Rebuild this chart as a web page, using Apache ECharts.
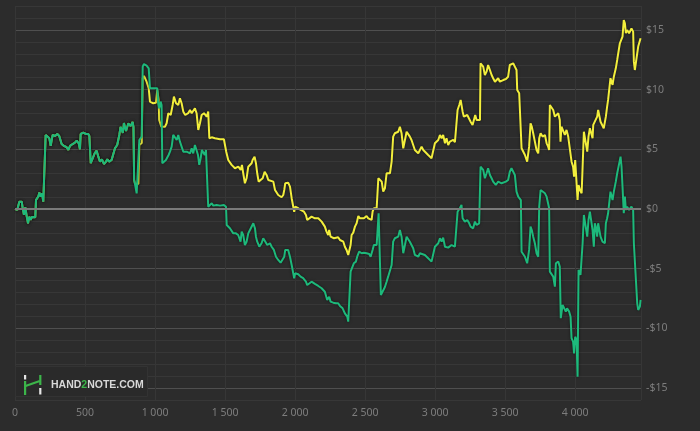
<!DOCTYPE html>
<html><head><meta charset="utf-8">
<script src="https://cdn.jsdelivr.net/npm/echarts@6/dist/echarts.min.js"></script>
<style>html,body{margin:0;padding:0;background:#2c2c2c}#c{width:700px;height:431px}</style>
</head><body><div id="c"></div><script>
// x tick labels (hands), y tick labels ($)
const xTicks = [0, 500, 1000, 1500, 2000, 2500, 3000, 3500, 4000];
const yTicks = [-15, -10, -5, 0, 5, 10, 15];

// Both lines coincide over the first ~850 hands
const sharedHands = [0,16,31,48,55,64,74,84,93,102,112,121,131,145,150,166,174,184,193,202,214,219,231,245,255,269,286,302,316,333,350,369,381,393,412,428,441,455,464,469,488,507,523,531,541,555,569,583,595,607,621,635,650,659,673,690,702,714,730,745,754,770,778,793,809,826,840,846];
const sharedValues = [0,-0.08,0.61,0.61,0.06,-0.5,0.14,-0.64,-1.2,-0.64,-0.92,-0.67,-0.78,-0.7,0.75,1.03,1.37,1.03,1.31,0.61,0.61,6.2,6.28,5.92,5.28,6.2,6.11,6.28,6.11,5.44,5.28,5.17,4.94,5.28,5.44,5.55,5.72,5.5,5.0,6.28,6.39,6.28,6.28,6.11,3.83,3.88,4.66,4.88,4.38,3.96,4.16,3.77,3.96,4.16,3.96,4.1,4.16,5.08,5.36,6.2,6.87,6.37,7.2,6.53,7.16,6.95,7.29,6.87];

// Green line (winnings)
const greenHands = [851,857,869,883,888,905,912,921,940,955,964,976,987,1016,1023,1030,1040,1047,1052,1064,1078,1087,1097,1107,1119,1130,1142,1155,1166,1178,1190,1202,1216,1226,1237,1250,1262,1273,1285,1297,1307,1316,1326,1335,1345,1355,1364,1373,1380,1392,1405,1416,1440,1464,1492,1507,1512,1535,1559,1578,1594,1611,1619,1630,1642,1654,1666,1678,1690,1702,1714,1721,1730,1745,1761,1773,1785,1802,1821,1833,1849,1864,1880,1897,1911,1923,1930,1951,1964,1976,1987,1994,2001,2023,2040,2058,2078,2087,2101,2118,2142,2166,2190,2213,2230,2244,2254,2273,2292,2308,2321,2340,2356,2373,2380,2392,2397,2406,2420,2435,2444,2458,2476,2492,2511,2530,2540,2554,2563,2583,2597,2606,2613,2625,2642,2654,2665,2678,2690,2701,2713,2737,2749,2761,2773,2785,2797,2820,2844,2856,2880,2892,2904,2927,2951,2975,2987,2999,3023,3035,3047,3058,3071,3094,3118,3142,3154,3161,3177,3189,3197,3213,3230,3244,3254,3272,3285,3297,3315,3325,3334,3344,3356,3368,3379,3392,3404,3415,3434,3451,3475,3506,3522,3534,3546,3558,3570,3582,3594,3613,3618,3630,3642,3658,3672,3682,3691,3701,3713,3725,3737,3744,3754,3768,3785,3797,3808,3815,3820,3832,3844,3856,3863,3880,3891,3898,3911,3922,3934,3943,3958,3968,3975,3986,3993,4001,4011,4018,4025,4039,4054,4063,4077,4087,4096,4106,4118,4125,4134,4141,4148,4158,4165,4172,4182,4196,4205,4213,4220,4229,4236,4248,4253,4268,4277,4291,4301,4315,4325,4332,4339,4348,4356,4363,4372,4386,4403,4415,4420,4434,4444,4451,4463,4468];
const greenValues = [2.43,2.09,1.31,1.31,5.78,6.06,11.92,12.14,12.0,11.78,10.11,9.97,10.11,10.11,8.85,8.43,8.99,8.71,3.83,3.83,4.1,3.96,4.52,4.8,5.22,6.2,6.34,5.78,6.2,5.64,5.5,4.8,4.94,4.8,4.94,4.66,5.08,4.66,5.36,5.42,4.52,3.69,4.25,4.94,4.8,4.52,4.94,5.08,0.19,0.11,0.48,0.28,0.34,0.28,0.34,0.19,-1.34,-1.62,-2.04,-2.04,-2.18,-2.74,-1.9,-2.18,-3.02,-2.74,-2.04,-1.76,-1.62,-1.2,-1.62,-2.32,-2.74,-3.16,-2.87,-2.45,-2.6,-3.02,-2.87,-3.16,-3.43,-4.0,-4.27,-4.5,-4.41,-4.0,-3.43,-3.43,-4.0,-4.69,-4.83,-5.8,-5.39,-5.47,-5.67,-5.8,-6.09,-6.37,-6.28,-6.09,-6.28,-6.45,-6.64,-6.93,-7.62,-7.35,-7.76,-7.85,-7.9,-7.9,-8.12,-8.32,-8.74,-9.02,-9.44,-9.44,-5.25,-5.11,-4.55,-4.41,-4.0,-3.58,-3.71,-3.66,-3.71,-3.77,-4.0,-3.43,-3.02,-3.02,-0.36,-0.42,-7.2,-7.2,-6.53,-6.09,-5.67,-5.53,-4.69,-2.74,-2.45,-2.32,-1.76,-2.32,-3.71,-3.02,-2.32,-2.74,-3.29,-3.85,-4.0,-3.71,-3.58,-3.85,-4.13,-4.41,-4.27,-3.16,-2.87,-2.45,-2.74,-2.4,-3.16,-3.24,-3.02,-3.16,-3.16,-0.23,0.06,0.34,-0.78,-1.06,-0.92,-1.2,-1.48,-1.62,-1.06,-1.34,-1.2,3.54,3.69,3.27,2.57,2.99,3.41,2.85,2.57,2.29,2.01,2.29,2.15,2.29,2.43,3.12,3.41,3.41,2.85,1.45,1.03,0.75,-3.58,-3.71,-4.0,-4.55,-3.43,-1.48,-1.76,-2.32,-2.87,-3.71,-4.0,0.19,1.59,1.45,1.31,1.03,0.9,0.06,-5.25,-5.39,-5.67,-6.51,-4.55,-4.41,-4.83,-9.15,-8.04,-7.9,-8.6,-8.32,-8.6,-9.02,-10.83,-11.11,-12.09,-10.7,-10.97,-14.05,-5.11,-5.53,-2.87,-0.5,-0.64,-2.32,-0.92,-0.23,-0.36,-1.76,-3.16,-1.2,-1.48,-2.32,-1.2,-1.2,-2.32,-2.74,-2.6,-2.87,-1.2,-0.78,-0.36,-0.23,1.45,0.75,1.45,2.29,2.99,2.99,4.38,3.54,1.87,-0.36,1.03,-0.08,0.19,-0.08,0.19,-0.08,-2.87,-3.02,-7.9,-8.46,-8.18,-7.62];

// Yellow line (all-in EV)
const yellowHands = [851,857,868,881,888,905,912,921,940,955,964,987,1007,1016,1026,1030,1045,1059,1071,1083,1095,1112,1126,1135,1150,1166,1178,1190,1202,1216,1237,1250,1262,1273,1285,1297,1309,1321,1333,1350,1369,1380,1388,1405,1428,1464,1492,1509,1523,1547,1571,1595,1612,1621,1630,1642,1654,1666,1678,1690,1697,1711,1721,1730,1740,1749,1769,1783,1797,1809,1821,1845,1857,1869,1880,1904,1916,1923,1930,1951,1964,1976,1987,1994,2001,2023,2040,2054,2064,2078,2087,2101,2118,2130,2142,2166,2178,2190,2202,2213,2225,2237,2244,2254,2268,2278,2292,2308,2321,2345,2356,2368,2380,2392,2397,2404,2416,2428,2440,2452,2464,2476,2492,2511,2523,2535,2547,2554,2563,2583,2595,2606,2619,2630,2642,2654,2666,2678,2690,2701,2713,2725,2737,2749,2761,2773,2785,2797,2809,2820,2832,2844,2856,2868,2880,2892,2904,2916,2927,2951,2963,2975,2987,2999,3011,3023,3035,3047,3058,3071,3082,3094,3106,3118,3130,3142,3154,3161,3173,3183,3189,3197,3206,3220,3230,3244,3254,3268,3278,3287,3297,3309,3321,3325,3334,3344,3356,3368,3379,3392,3404,3415,3428,3440,3451,3463,3475,3487,3506,3522,3534,3546,3558,3570,3582,3587,3601,3613,3618,3630,3642,3658,3672,3682,3691,3701,3713,3725,3737,3744,3754,3768,3785,3797,3808,3815,3820,3832,3844,3856,3868,3880,3891,3896,3903,3915,3927,3939,3951,3963,3975,3986,3993,4001,4011,4018,4025,4035,4047,4054,4063,4077,4087,4096,4106,4118,4125,4130,4141,4148,4158,4165,4172,4182,4196,4205,4213,4220,4229,4236,4248,4253,4268,4277,4291,4301,4315,4320,4332,4339,4348,4356,4363,4372,4386,4403,4415,4420,4427,4439,4451,4458,4468];
const yellowValues = [2.43,2.14,2.09,2.09,5.36,5.53,10.95,11.14,10.66,10.11,8.99,8.85,8.9,9.97,9.13,7.45,6.89,7.04,6.89,7.18,8.02,7.87,8.71,9.41,8.85,8.71,9.27,8.85,8.15,7.87,8.02,8.29,8.02,8.15,8.43,8.02,6.62,7.18,7.87,8.02,7.73,8.15,5.92,6.0,5.92,5.84,5.84,4.77,4.1,3.69,3.41,3.54,3.27,3.69,2.99,2.15,2.57,3.54,3.6,3.83,4.1,4.38,3.83,2.99,2.29,2.43,2.57,3.12,2.85,2.43,2.57,2.29,1.59,1.45,1.17,0.98,1.17,1.59,2.15,2.2,1.87,0.9,0.75,-0.23,0.19,0.06,-0.08,-0.03,-0.23,-0.5,-0.92,-0.78,-0.64,-0.5,-0.78,-0.78,-0.92,-1.06,-1.2,-1.48,-1.9,-2.18,-1.76,-2.32,-2.18,-2.45,-2.45,-2.37,-2.6,-2.74,-3.16,-3.43,-3.85,-3.85,-3.02,-2.18,-1.98,-1.48,-1.2,-0.59,-0.78,-0.64,-0.78,-0.59,-0.78,-0.92,-0.92,-0.23,0.06,0.06,2.57,2.57,2.29,1.45,1.73,2.99,3.12,2.99,3.96,6.06,6.34,6.2,6.47,6.89,6.34,5.08,5.78,6.47,6.34,6.06,5.78,5.64,4.94,4.8,4.66,4.94,5.22,4.94,4.8,4.52,4.38,4.25,4.38,5.5,5.64,5.78,6.2,5.92,6.2,5.5,5.92,5.36,5.64,5.5,5.78,5.59,5.5,8.29,8.71,9.13,9.27,8.15,7.73,7.6,7.87,7.73,7.31,7.04,7.18,7.87,7.45,7.31,7.45,12.2,12.34,11.92,11.22,11.5,12.06,11.64,11.22,10.95,10.66,10.53,10.95,10.66,10.8,10.8,10.89,11.08,12.06,12.2,12.2,11.92,11.64,9.97,9.69,9.55,5.08,4.94,4.52,3.96,5.22,7.18,6.89,6.34,5.64,4.94,4.66,5.92,6.34,6.06,6.2,5.5,5.22,4.94,8.71,8.71,8.29,7.73,7.6,8.02,7.45,5.64,6.89,6.76,6.2,6.62,6.06,5.92,3.96,3.54,2.71,4.1,3.96,0.75,2.01,1.59,1.31,3.54,6.47,6.34,4.8,6.06,6.76,6.62,5.92,7.04,7.31,7.18,7.73,8.29,8.29,7.31,7.18,6.76,6.62,7.73,8.57,9.13,9.27,10.95,10.39,11.08,11.78,12.48,12.48,13.88,14.01,14.43,15.83,15.55,14.72,14.99,14.72,15.13,14.85,12.34,11.64,11.78,13.6,13.74,14.3];

const X_MAX = 4471, Y_MIN = -16, Y_MAX = 17;

function pairs(h, v) { return h.map((x, i) => [x, v[i]]); }
const greenData = pairs(sharedHands.concat(greenHands), sharedValues.concat(greenValues));
const yellowData = pairs(sharedHands.concat(yellowHands), sharedValues.concat(yellowValues));

function fmtHands(v) {
  if (v < 1000) return String(v);
  return Math.floor(v / 1000) + ' ' + String(v % 1000).padStart(3, '0');
}
function fmtMoney(v) { return v < 0 ? '-$' + (-v) : '$' + v; }

const MINOR = '#373737', MAJOR = '#4f4f4f';
const yLineColors = [];
for (let v = Y_MIN; v <= Y_MAX; v++) yLineColors.push(v % 5 === 0 ? MAJOR : MINOR);

const labelStyle = { color: '#7d7d7d', fontSize: 10.5, fontFamily: 'Noto Sans' };

const chart = echarts.init(document.getElementById('c'), null, { renderer: 'canvas' });
chart.setOption({
  backgroundColor: '#2c2c2c',
  animation: false,
  grid: { left: 15, right: 59, top: 6, bottom: 31, containLabel: false },
  xAxis: {
    type: 'value', min: 0, max: X_MAX, interval: 500,
    axisLine: { show: false }, axisTick: { show: false },
    axisLabel: Object.assign({}, labelStyle, {
      margin: 8, showMaxLabel: false,
      formatter: v => xTicks.indexOf(v) >= 0 ? fmtHands(v) : ''
    }),
    splitLine: { show: true, lineStyle: { color: '#363636', width: 1 } }
  },
  yAxis: {
    type: 'value', position: 'right', min: Y_MIN, max: Y_MAX, interval: 1,
    axisLine: { show: false }, axisTick: { show: false },
    axisLabel: Object.assign({}, labelStyle, {
      margin: 5,
      formatter: v => yTicks.indexOf(v) >= 0 ? fmtMoney(v) : ''
    }),
    splitLine: { show: true, lineStyle: { color: yLineColors, width: 1 } }
  },
  graphic: [
    { type: 'rect', z: 50, shape: { x: 15.5, y: 366.5, width: 132, height: 30 },
      style: { fill: '#2a2a2a', stroke: '#333333', lineWidth: 1 } },
    { type: 'rect', z: 51, shape: { x: 24, y: 375, width: 2.2, height: 4.5 }, style: { fill: '#e6e6e6' } },
    { type: 'rect', z: 51, shape: { x: 24, y: 381, width: 2.2, height: 14 }, style: { fill: '#3cb54a' } },
    { type: 'polyline', z: 51, shape: { points: [[25.5, 386], [39.8, 381]] }, style: { stroke: '#3cb54a', lineWidth: 2.2 } },
    { type: 'rect', z: 51, shape: { x: 39.2, y: 375, width: 2.2, height: 10 }, style: { fill: '#3cb54a' } },
    { type: 'rect', z: 51, shape: { x: 39.2, y: 388, width: 2.2, height: 6.5 }, style: { fill: '#e6e6e6' } },
    { type: 'text', z: 51, x: 51, y: 385.5,
      style: {
        text: '{w|HAND}{g|2}{w|NOTE.COM}', verticalAlign: 'middle',
        rich: {
          w: { fill: '#d8d8d8', fontSize: 10.5, fontWeight: 'bold', fontFamily: 'Liberation Sans' },
          g: { fill: '#3cb54a', fontSize: 10.5, fontWeight: 'bold', fontFamily: 'Liberation Sans' }
        }
      } }
  ],
  series: [
    { type: 'line', data: [], z: 1, silent: true,
      markLine: { silent: true, symbol: 'none', label: { show: false }, animation: false,
        lineStyle: { color: '#7a7a7a', width: 2, type: 'solid' }, data: [{ yAxis: 0 }] } },
    { name: 'EV', type: 'line', data: yellowData, z: 3, showSymbol: false, symbol: 'none',
      lineStyle: { color: '#f2ee3c', width: 2, shadowColor: 'rgba(0,0,0,0.55)', shadowBlur: 3 } },
    { name: 'Won', type: 'line', data: greenData, z: 4, showSymbol: false, symbol: 'none',
      lineStyle: { color: '#1db97b', width: 2, shadowColor: 'rgba(0,0,0,0.55)', shadowBlur: 3 } }
  ]
});
</script></body></html>
